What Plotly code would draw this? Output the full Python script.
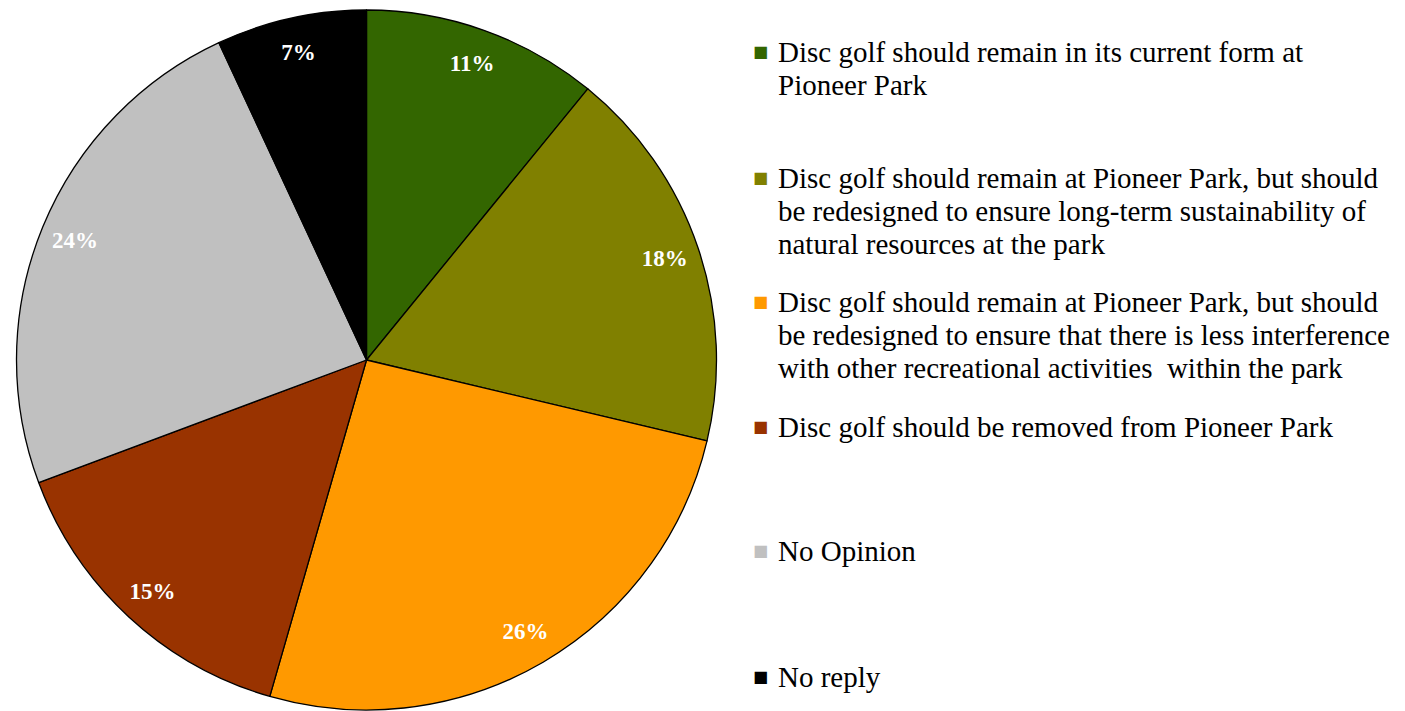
import plotly.graph_objects as go

W, H = 1405, 711
OFF = 8  # page body margin offset compensation

categories = [
    "Disc golf should remain in its current form at Pioneer Park",
    "Disc golf should remain at Pioneer Park, but should be redesigned to ensure long-term sustainability of natural resources at the park",
    "Disc golf should remain at Pioneer Park, but should be redesigned to ensure that there is less interference with other recreational activities  within the park",
    "Disc golf should be removed from Pioneer Park",
    "No Opinion",
    "No reply",
]
legend_lines = [
    ["Disc golf should remain in its current form at", "Pioneer Park"],
    ["Disc golf should remain at Pioneer Park, but should",
     "be redesigned to ensure long-term sustainability of",
     "natural resources at the park"],
    ["Disc golf should remain at Pioneer Park, but should",
     "be redesigned to ensure that there is less interference",
     "with other recreational activities  within the park"],
    ["Disc golf should be removed from Pioneer Park"],
    ["No Opinion"],
    ["No reply"],
]
values = [11, 18, 26, 15, 24, 7]
colors = ["#336600", "#808000", "#FF9900", "#993300", "#C0C0C0", "#000000"]
pct_labels = [f"{v}%" for v in values]

FONT = "Liberation Serif"
pie_domain = dict(x=[(15 - OFF) / W, (718 - OFF) / W],
                  y=[1 - (710 - OFF) / H, 1 - (10 - OFF) / H])

fig = go.Figure()
fig.add_trace(go.Pie(
    labels=categories, values=values, sort=False, direction="clockwise",
    marker=dict(colors=colors, line=dict(color="#000000", width=1.3)),
    textinfo="none", domain=pie_domain, showlegend=False, hoverinfo="label+value",
))
fig.add_trace(go.Pie(
    labels=categories, values=values, sort=False, direction="clockwise", hole=0.8,
    marker=dict(colors=["rgba(0,0,0,0)"] * len(values), line=dict(width=0)),
    text=pct_labels, textinfo="text", textposition="inside",
    insidetextorientation="horizontal",
    textfont=dict(family=FONT, size=23, color="white", weight="bold"),
    domain=pie_domain, showlegend=False, hoverinfo="skip",
))

# legend (first-line centres in pixels)
first_line_y = [52, 178, 302, 427, 551, 677]
line_h = 33
fs = 29
annotations = []
for lines, col, yc in zip(legend_lines, colors, first_line_y):
    annotations.append(dict(
        x=(760.5 - OFF) / W, y=1 - (yc - 1 - OFF) / H, xref="paper", yref="paper",
        text="■", showarrow=False, xanchor="center", yanchor="middle",
        font=dict(family="DejaVu Sans", size=16, color=col),
    ))
    for i, ln in enumerate(lines):
        annotations.append(dict(
            x=(776 - OFF) / W, y=1 - (yc + i * line_h - OFF) / H,
            xref="paper", yref="paper",
            text=ln, showarrow=False, xanchor="left", yanchor="middle",
            align="left", font=dict(family=FONT, size=fs, color="#000000"),
        ))

fig.update_layout(
    width=W, height=H, margin=dict(l=0, r=0, t=0, b=0),
    paper_bgcolor="white", plot_bgcolor="white",
    annotations=annotations, showlegend=False,
)
fig.write_html("out.html")
